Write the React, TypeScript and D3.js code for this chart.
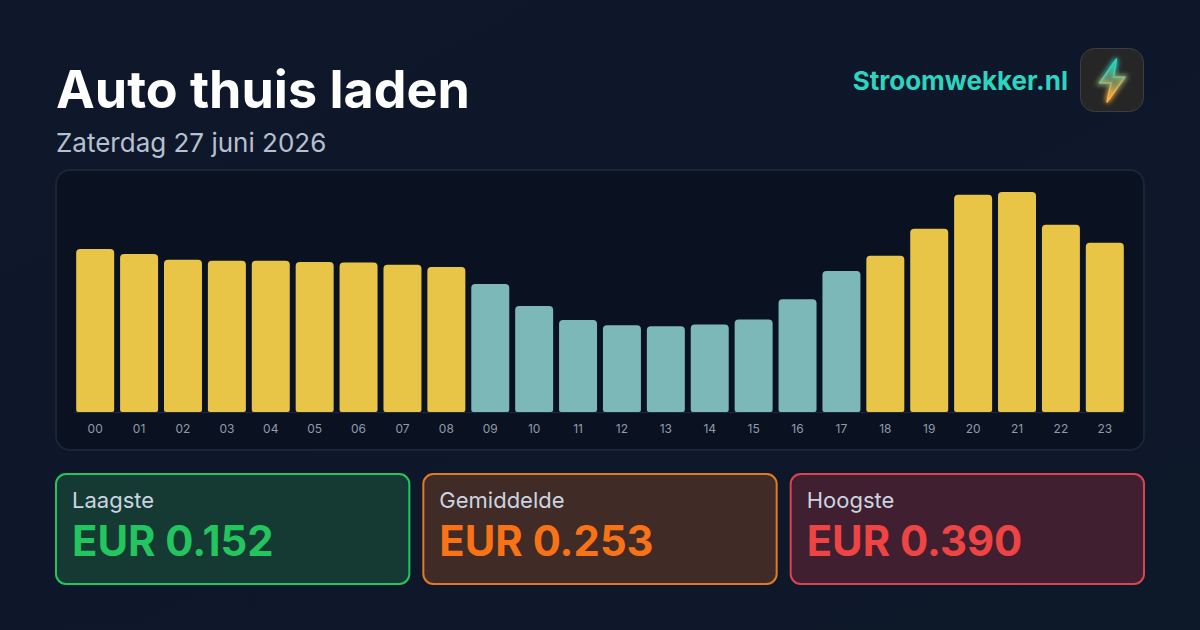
import React from "react";
import * as d3 from "d3";

const hours = ["00","01","02","03","04","05","06","07","08","09","10","11","12","13","14","15","16","17","18","19","20","21","22","23"];
const prices = [0.289,0.280,0.270,0.268,0.268,0.266,0.265,0.261,0.257,0.227,0.188,0.163,0.154,0.152,0.155,0.164,0.200,0.250,0.277,0.325,0.385,0.390,0.332,0.300];
const cheapHours = ["09","10","11","12","13","14","15","16","17"];
const cardLabels = ["Laagste","Gemiddelde","Hoogste"];
const cardValues = ["EUR 0.152","EUR 0.253","EUR 0.390"];
const cardColors = ["#22c55e","#f97316","#ef4444"];
const cardFills = ["#153a33","#402b27","#402030"];
const cardBorders = ["#22c55e","#e07a26","#dc4350"];

const FONT = "Inter, 'Noto Sans', sans-serif";
const BOLT = "M1116.5,59 L1099.5,83 L1111,83 L1107,102 L1125,77 L1113.5,77 Z";

export default function App() {
  const x = d3.scaleBand<string>().domain(hours).range([74, 1126]).paddingInner(0.1345).paddingOuter(0.05);
  const y = d3.scaleLinear().domain([0, 0.39]).range([412, 192]);
  const cardX = d3.scaleBand<string>().domain(cardLabels).range([55, 1145]).paddingInner(12 / 367.33);
  const barPath = (h: string, v: number) => {
    const x0 = x(h)!, w = x.bandwidth(), t = y(v), b = y(0), r = 4, rb = 2;
    return `M${x0},${b - rb}V${t + r}Q${x0},${t} ${x0 + r},${t}H${x0 + w - r}Q${x0 + w},${t} ${x0 + w},${t + r}V${b - rb}Q${x0 + w},${b} ${x0 + w - rb},${b}H${x0 + rb}Q${x0},${b} ${x0},${b - rb}Z`;
  };
  return (
    <svg width={1200} height={630} viewBox="0 0 1200 630" style={{ position: "fixed", left: 0, top: 0, fontFamily: FONT }}>
      <defs>
        <linearGradient id="bg" x1="0" y1="0" x2="1" y2="1">
          <stop offset="0" stopColor="#0f172a" />
          <stop offset="1" stopColor="#0d1829" />
        </linearGradient>
        <linearGradient id="bolt" gradientUnits="userSpaceOnUse" x1="1108" y1="62" x2="1116" y2="100">
          <stop offset="0.15" stopColor="#2dd4bf" />
          <stop offset="0.5" stopColor="#9bb678" />
          <stop offset="0.85" stopColor="#fbb040" />
        </linearGradient>
        <filter id="glow" x="-60%" y="-60%" width="220%" height="220%">
          <feGaussianBlur stdDeviation="2.5" />
        </filter>
      </defs>
      <rect width={1200} height={630} fill="url(#bg)" />
      <text x={56} y={108} fontSize={52} fontWeight={700} fill="#ffffff">Auto thuis laden</text>
      <text x={56} y={152} fontSize={26} fill="#b5c0d0">Zaterdag 27 juni 2026</text>
      <text x={1068} y={90} fontSize={26} fontWeight={700} fill="#2dd4bf" textAnchor="end">Stroomwekker.nl</text>

      <rect x={1080.5} y={48.5} width={63} height={63} rx={14} fill="#262626" stroke="#3b3d42" />
      <path d={BOLT} fill="none" stroke="url(#bolt)" strokeWidth={3.5} filter="url(#glow)" />
      <path d={BOLT} fill="url(#bolt)" fillOpacity={0.55} stroke="url(#bolt)" strokeWidth={1.5} strokeLinejoin="round" />

      <rect x={56} y={170} width={1088} height={280} rx={14} fill="#0a1120" stroke="#1a2536" strokeWidth={2} />
      <line x1={74} x2={1126} y1={412.5} y2={412.5} stroke="#1e293b" />
      {hours.map((h, i) => (
        <g key={h}>
          <path d={barPath(h, prices[i])} fill={cheapHours.includes(h) ? "#7db8b9" : "#e8c547"} />
          <text x={x(h)! + x.bandwidth() / 2} y={433} fontSize={12} fill="#8f9bab" textAnchor="middle">{h}</text>
        </g>
      ))}

      {cardLabels.map((label, i) => {
        const cx = cardX(label)!;
        return (
          <g key={label}>
            <rect x={cx + 1} y={474} width={cardX.bandwidth() - 2} height={110} rx={10} fill={cardFills[i]} stroke={cardBorders[i]} strokeWidth={2} />
            <text x={cx + 17} y={508} fontSize={20} fontWeight={400} fill="#cbd5e1" style={{ fontSize: 22 }}>{label}</text>
            <text x={cx + 17} y={556} fontSize={41.8} fontWeight={700} fill={cardColors[i]}>{cardValues[i]}</text>
          </g>
        );
      })}
    </svg>
  );
}
